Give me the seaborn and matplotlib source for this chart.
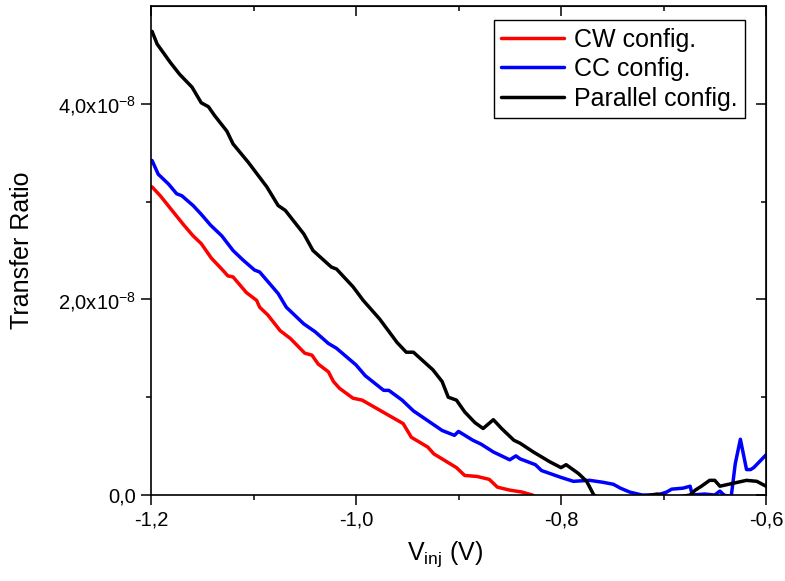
import numpy as np
import pandas as pd
import seaborn as sns
import matplotlib.pyplot as plt

# values (transfer ratio in units of 1e-8)
cw_v = [-1.199, -1.191, -1.178, -1.168, -1.159, -1.151, -1.141, -1.131, -1.125, -1.120,
        -1.107, -1.097, -1.094, -1.086, -1.074, -1.064, -1.050, -1.043, -1.037, -1.027,
        -1.022, -1.016, -1.003, -0.994, -0.974, -0.954, -0.946, -0.930, -0.924, -0.902,
        -0.894, -0.882, -0.870, -0.862, -0.850, -0.838, -0.828, -0.820]
cw_r = [3.15, 3.06, 2.89, 2.76, 2.65, 2.57, 2.42, 2.31, 2.24, 2.23,
        2.07, 1.99, 1.92, 1.84, 1.68, 1.60, 1.45, 1.43, 1.34, 1.26,
        1.16, 1.09, 0.99, 0.97, 0.85, 0.73, 0.59, 0.49, 0.42, 0.28,
        0.20, 0.19, 0.16, 0.08, 0.05, 0.03, 0.00, -0.05]

cc_v = [-1.199, -1.193, -1.183, -1.175, -1.170, -1.159, -1.151, -1.142, -1.131, -1.120,
        -1.110, -1.099, -1.094, -1.076, -1.068, -1.051, -1.040, -1.027, -1.019, -1.000,
        -0.991, -0.973, -0.968, -0.955, -0.944, -0.930, -0.916, -0.904, -0.900, -0.886,
        -0.878, -0.866, -0.850, -0.844, -0.840, -0.825, -0.819, -0.800, -0.788, -0.772,
        -0.759, -0.749, -0.742, -0.733, -0.721, -0.706, -0.697, -0.692, -0.681, -0.674,
        -0.672, -0.660, -0.650, -0.645, -0.641, -0.634, -0.630, -0.625, -0.619, -0.615,
        -0.612, -0.600]
cc_r = [3.42, 3.28, 3.18, 3.08, 3.06, 2.96, 2.87, 2.76, 2.65, 2.50,
        2.40, 2.30, 2.28, 2.06, 1.92, 1.75, 1.67, 1.55, 1.50, 1.33,
        1.22, 1.07, 1.07, 0.97, 0.86, 0.76, 0.66, 0.61, 0.65, 0.56,
        0.52, 0.44, 0.36, 0.40, 0.37, 0.31, 0.25, 0.18, 0.14, 0.15,
        0.13, 0.11, 0.07, 0.03, 0.00, 0.00, 0.03, 0.06, 0.07, 0.09,
        0.00, 0.01, 0.00, 0.04, 0.00, -0.02, 0.32, 0.57, 0.26, 0.26,
        0.28, 0.41]

par_v = [-1.199, -1.194, -1.181, -1.172, -1.160, -1.151, -1.144, -1.138, -1.126, -1.120,
         -1.105, -1.087, -1.076, -1.069, -1.051, -1.042, -1.024, -1.019, -1.003, -0.993,
         -0.977, -0.960, -0.951, -0.944, -0.925, -0.916, -0.910, -0.902, -0.894, -0.884,
         -0.876, -0.866, -0.858, -0.846, -0.840, -0.827, -0.811, -0.800, -0.795, -0.783,
         -0.775, -0.768, -0.760, -0.730, -0.706, -0.690, -0.674, -0.669, -0.663, -0.655,
         -0.650, -0.645, -0.632, -0.619, -0.609, -0.600]
par_r = [4.74, 4.61, 4.42, 4.30, 4.17, 4.01, 3.97, 3.88, 3.72, 3.59,
         3.40, 3.15, 2.96, 2.91, 2.67, 2.50, 2.33, 2.31, 2.13, 1.99,
         1.80, 1.56, 1.46, 1.46, 1.28, 1.16, 1.00, 0.97, 0.85, 0.74,
         0.68, 0.77, 0.68, 0.56, 0.53, 0.44, 0.34, 0.28, 0.31, 0.22,
         0.14, 0.00, -0.05, -0.03, 0.01, -0.03, 0.00, 0.05, 0.09, 0.15,
         0.15, 0.09, 0.12, 0.15, 0.14, 0.09]

labels = ["CW config.", "CC config.", "Parallel config."]
colors = ["#ff0000", "#0000ff", "#000000"]
x_ticks = [-1.2, -1.0, -0.8, -0.6]
x_ticklabels = ["-1,2", "-1,0", "-0,8", "-0,6"]
y_ticks = [0, 2e-8, 4e-8]
y_ticklabels = ["0,0", r"2,0x10$^{\mathregular{-8}}$", r"4,0x10$^{\mathregular{-8}}$"]

df = pd.concat([
    pd.DataFrame({"V": cw_v, "ratio": cw_r, "config": labels[0]}),
    pd.DataFrame({"V": cc_v, "ratio": cc_r, "config": labels[1]}),
    pd.DataFrame({"V": par_v, "ratio": par_r, "config": labels[2]}),
])
df["ratio"] = df["ratio"] * 1e-8

sns.set_style("ticks")
plt.rcParams["font.family"] = ["Liberation Sans", "DejaVu Sans"]
plt.rcParams["mathtext.fontset"] = "custom"
plt.rcParams["mathtext.rm"] = "Liberation Sans"
plt.rcParams["text.color"] = "black"
plt.rcParams["axes.labelcolor"] = "black"

fig = plt.figure(figsize=(7.85, 5.81), dpi=100)
ax = fig.add_axes([0.1924, 0.148, 0.7834, 0.8417])

sns.lineplot(data=df, x="V", y="ratio", hue="config", hue_order=labels,
             palette=dict(zip(labels, colors)), estimator=None, linewidth=2.5, ax=ax)

ax.set_xlim(-1.2, -0.6)
ax.set_ylim(0, 5e-8)
ax.set_xticks(x_ticks)
ax.set_xticklabels(x_ticklabels)
ax.set_xticks([-1.1, -0.9, -0.7], minor=True)
ax.set_yticks(y_ticks)
ax.set_yticklabels(y_ticklabels)
ax.set_yticks([1e-8, 3e-8], minor=True)
ax.tick_params(which="major", direction="out", length=7, width=1.1, labelsize=14.5, pad=4, colors="black")
ax.tick_params(which="minor", direction="out", length=3.6, width=1.1, colors="black")

for s in ax.spines.values():
    s.set_linewidth(1.2)
    s.set_color("black")
    s.set_visible(True)

# inward ticks on top and right sides
top = ax.secondary_xaxis("top")
top.set_xticks(x_ticks)
top.set_xticks([-1.1, -0.9, -0.7], minor=True)
top.tick_params(which="both", direction="in", labeltop=False, width=1.1, colors="black")
top.tick_params(which="major", length=7)
top.tick_params(which="minor", length=3.6)
right = ax.secondary_yaxis("right")
right.set_yticks(y_ticks)
right.set_yticks([1e-8, 3e-8], minor=True)
right.tick_params(which="both", direction="in", labelright=False, width=1.1, colors="black")
right.tick_params(which="major", length=7)
right.tick_params(which="minor", length=3.6)

ax.set_xlabel(r"V$_{\mathregular{inj}}$ (V)", fontsize=18, color="black")
ax.set_ylabel("Transfer Ratio", fontsize=18, color="black")
ax.xaxis.set_label_coords(0.478, -0.09)
ax.yaxis.set_label_coords(-0.19, 0.5)

leg = ax.legend(loc="upper right", bbox_to_anchor=(0.966, 0.971), borderaxespad=0,
                fontsize=18, frameon=True, fancybox=False, edgecolor="black",
                handlelength=2.5, handletextpad=0.4, labelspacing=0.22, borderpad=0.3)
leg.get_frame().set_linewidth(1.0)
leg.get_frame().set_alpha(1)
for t in leg.get_texts():
    t.set_color("black")

fig.savefig("out.png", dpi=100)
